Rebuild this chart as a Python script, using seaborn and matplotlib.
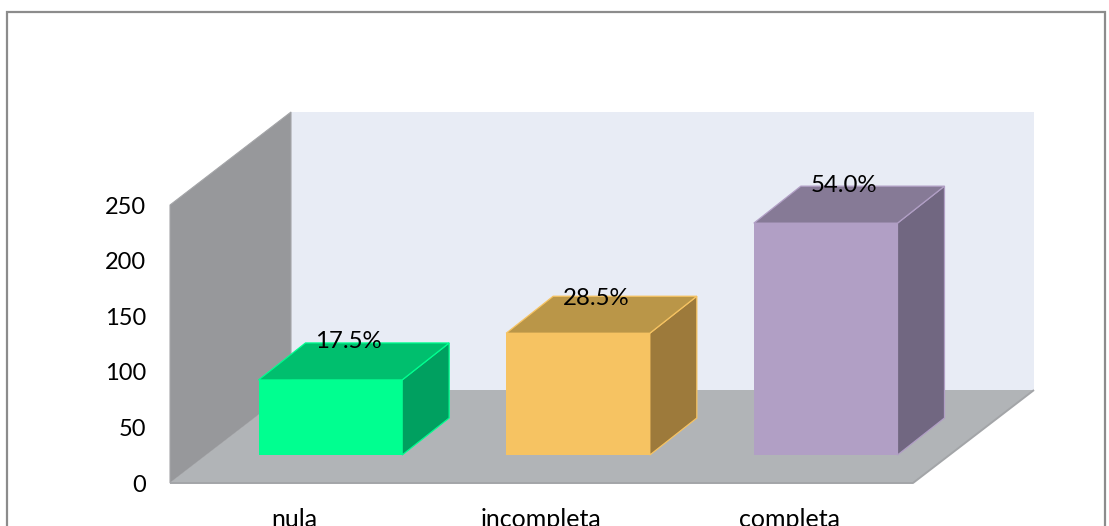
import matplotlib
matplotlib.use("Agg")
import matplotlib.pyplot as plt
import seaborn as sns
from matplotlib.patches import Polygon, Rectangle
from matplotlib.transforms import Affine2D, IdentityTransform

categories = ["nula", "incompleta", "completa"]
values = [67.5, 109.5, 208.5]
percent_labels = ["17.5%", "28.5%", "54.0%"]
label_rise = [66, 63, 66]
y_ticks = [0, 50, 100, 150, 200, 250]
front_colors = ["#00FF90", "#F6C362", "#B19FC5"]
top_colors = ["#00BF6E", "#BA9648", "#867A96"]
side_colors = ["#00A060", "#9D7A3B", "#716781"]

W, H, DPI = 1109, 526, 100
sns.set_style("white")
plt.rcParams["font.family"] = ["Lato", "DejaVu Sans"]

fig = plt.figure(figsize=(W / DPI, H / DPI), dpi=DPI, facecolor="white")
ax = fig.add_axes([170 / W, (H - 483) / H, 743 / W, 278 / H])
ax.patch.set_visible(False)

sns.barplot(x=categories, y=values, hue=categories, palette=front_colors,
            saturation=1, width=0.58, legend=False, ax=ax, zorder=3)
bars = sorted([b for b in ax.patches if b.get_height() > 0], key=lambda b: b.get_x())
ax.set_xlim(-0.5, 2.5)
ax.set_ylim(0, 250)
ax.set_yticks(y_ticks)
ax.tick_params(axis="y", length=0, pad=17, labelsize=17, labelcolor="black")
ax.tick_params(axis="x", length=0, pad=18.2, labelsize=18, labelcolor="black")
sns.despine(ax=ax, left=True, bottom=True, top=True, right=True)

px = IdentityTransform()
fig.canvas.draw()


def poly(points, face, edge="none", lw=0.0, z=1):
    ax.add_patch(Polygon(points, closed=True, facecolor=face, edgecolor=edge,
                         linewidth=lw, transform=px, clip_on=False, zorder=z))


# room: depth of the 3D box in pixels
WX, WY = 121, 93
(lx, by), (rx, ty) = ax.transData.transform([(-0.5, 0), (2.5, 250)])
poly([(lx + WX, by + WY), (rx + WX, by + WY), (rx + WX, ty + WY), (lx + WX, ty + WY)], "#E8ECF5", z=0.5)
poly([(lx, by), (lx + WX, by + WY), (lx + WX, ty + WY), (lx, ty)], "#97989B", "#A4A5A8", 0.8, z=0.6)
poly([(lx, by), (rx, by), (rx + WX, by + WY), (lx + WX, by + WY)], "#B1B4B7", z=0.7)
ax.plot([lx, rx, rx + WX], [by, by, by + WY], color="#A3A5A8", lw=1.4,
        transform=px, clip_on=False, zorder=0.8, solid_capstyle="butt")

# bars: the front face sits part-way into the room, with a box behind it
OX, OY = 36.5, 28
DX, DY = 47, 37
shift = ax.transData + Affine2D().translate(OX, OY)
for i, bar in enumerate(bars):
    x0, x1 = bar.get_x(), bar.get_x() + bar.get_width()
    (ax0, ay0), (ax1, ay1) = shift.transform([(x0, 0), (x1, bar.get_height())])
    poly([(ax1, ay0), (ax1 + DX, ay0 + DY), (ax1 + DX, ay1 + DY), (ax1, ay1)],
         side_colors[i], front_colors[i], 0.9, z=2.5)
    poly([(ax0, ay1), (ax1, ay1), (ax1 + DX, ay1 + DY), (ax0 + DX, ay1 + DY)],
         top_colors[i], front_colors[i], 0.9, z=2.6)
    bar.set_transform(shift)
    bar.set_clip_on(False)
    bar.set_edgecolor("none")
    ax.annotate(percent_labels[i], xy=(i, values[i]), xytext=(54.5, label_rise[i]),
                textcoords="offset pixels", ha="center", va="center",
                fontsize=17.3, color="black", annotation_clip=False, zorder=6)

# outer chart frame (runs past the lower picture edge)
fig.add_artist(Rectangle((7 / W, -0.05), 1098 / W, 1.05 - 12 / H, transform=fig.transFigure,
                         facecolor="none", edgecolor="#8C8C8C", linewidth=1.6))

fig.savefig("out.png", dpi=DPI, facecolor="white")
